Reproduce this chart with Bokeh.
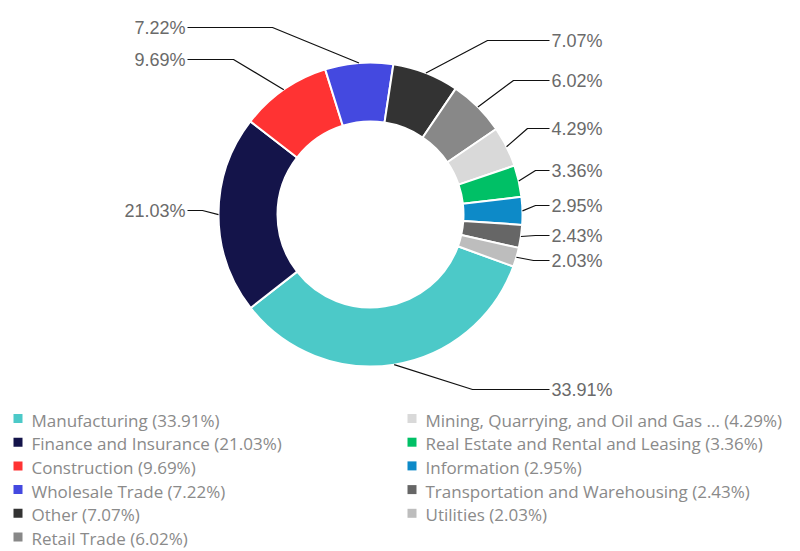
import numpy as np
from bokeh.plotting import figure
from bokeh.models import Range1d, ColumnDataSource
from bokeh.embed import file_html
from bokeh.resources import INLINE
from bokeh.core.properties import value

# ---- data ----
categories = ["Manufacturing", "Finance and Insurance", "Construction", "Wholesale Trade",
              "Other", "Retail Trade", "Mining, Quarrying, and Oil and Gas ...",
              "Real Estate and Rental and Leasing", "Information",
              "Transportation and Warehousing", "Utilities"]
shares = [33.91, 21.03, 9.69, 7.22, 7.07, 6.02, 4.29, 3.36, 2.95, 2.43, 2.03]
colors = ["#4CC9C8", "#14144A", "#FF3333", "#4449E0", "#333333", "#888888",
          "#D9D9D9", "#00C066", "#0D8AC8", "#666666", "#BDBDBD"]

# ---- layout (screen px) ----
label_side = ["r", "l", "l", "l", "r", "r", "r", "r", "r", "r", "r"]
label_y = [389, 210, 59, 27, 40, 80, 128, 170, 205, 235, 260]
elbow_x = [472, 202, 233, 272, 487, 513, 527, 535, 535, 535, 533]

W, H = 800, 551


def sy(y):
    return H - y


p = figure(width=W, height=H, x_range=Range1d(0, W), y_range=Range1d(0, H),
           output_backend="svg", toolbar_location=None, min_border=0,
           x_axis_location=None, y_axis_location=None)
p.grid.visible = False
p.outline_line_color = None
p.background_fill_color = "white"

cx, cy = 370, sy(214)
R_out, R_in = 152, 93
theta0 = 110.0

vals = np.array(shares)
tot = vals.sum()
cum = np.concatenate([[0], np.cumsum(vals)]) / tot * 360.0
t_start = theta0 + cum[:-1]
t_end = theta0 + cum[1:]
t_mid = (t_start + t_end) / 2

src = ColumnDataSource(dict(
    start=np.radians(90 - t_start), end=np.radians(90 - t_end), color=colors))
p.annular_wedge(x=cx, y=cy, inner_radius=R_in, outer_radius=R_out,
                start_angle="start", end_angle="end", direction="clock",
                fill_color="color", line_color="white", line_width=2, source=src)

# connectors + labels
xs, ys = [], []
lx, ly, ltxt, lalign = [], [], [], []
for i, v in enumerate(shares):
    ax = cx + R_out * np.sin(np.radians(t_mid[i]))
    ay = cy + R_out * np.cos(np.radians(t_mid[i]))
    yy = sy(label_y[i])
    hx = 549 if label_side[i] == "r" else 187
    xs.append([ax, elbow_x[i], hx])
    ys.append([ay, yy, yy])
    lx.append(551 if label_side[i] == "r" else 185)
    ly.append(yy)
    ltxt.append(f"{v:.2f}%")
    lalign.append("left" if label_side[i] == "r" else "right")

p.multi_line(xs=xs, ys=ys, line_color="#111111", line_width=1.2)
p.text(x=lx, y=ly, text=ltxt, text_align=lalign, text_baseline="middle",
       text_font=value("Liberation Sans"), text_font_size="18px", text_color="#6a6a6a")

# legend (two columns)
leg_x, leg_y, leg_tx, leg_txt = [], [], [], []
for i, (c, v) in enumerate(zip(categories, shares)):
    col = 0 if i < 6 else 1
    row = i if i < 6 else i - 6
    y = sy(418 + 23.7 * row)
    bx = 17.5 if col == 0 else 411.5
    leg_x.append(bx)
    leg_y.append(y)
    leg_tx.append(31 if col == 0 else 425)
    leg_txt.append(f"{c} ({v:.2f}%)")

p.rect(x=leg_x, y=leg_y, width=9, height=9, fill_color=colors, line_color=None)
p.text(x=leg_tx, y=[y - 1.5 for y in leg_y], text=leg_txt, text_align="left",
       text_baseline="middle", text_font=value("Open Sans"), text_font_size="17px",
       text_color="#8a8a8a")

open("out.html", "w").write(file_html(p, INLINE))
